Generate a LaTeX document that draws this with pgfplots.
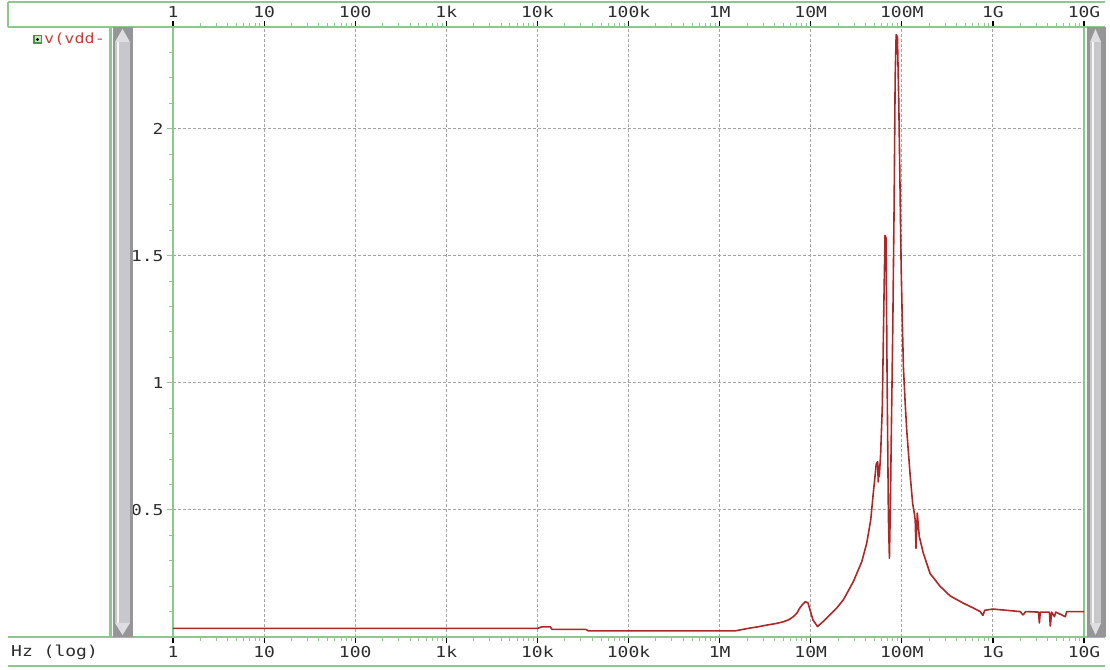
\documentclass[border=0pt]{standalone}
\usepackage{pgfplots}
\pgfplotsset{compat=1.18}
\usepackage{fontspec}
\newfontfamily\ltmono[FakeStretch=1.2]{DejaVu Sans Mono}
\newcommand{\tickfont}{\ltmono\fontsize{15}{17}\selectfont}
\definecolor{agreen}{RGB}{140,200,140}
\definecolor{gridgray}{RGB}{165,165,165}
\definecolor{labelgray}{RGB}{45,45,45}
\definecolor{curvered}{RGB}{172,40,40}
\definecolor{legred}{RGB}{200,60,60}
\definecolor{sbdark}{RGB}{150,150,152}
\definecolor{sbmid}{RGB}{200,200,204}
\definecolor{sbtri}{RGB}{222,222,226}
\definecolor{icongreen}{RGB}{70,150,70}
\definecolor{iconlight}{RGB}{200,230,200}
\begin{document}
\begin{tikzpicture}
\path[use as bounding box] (0pt,0pt) rectangle (1110pt,669pt);
% frame lines
\draw[agreen, line width=1.3pt] (8pt,667pt) -- (1105pt,667pt);
\draw[agreen, line width=1.3pt] (8pt,667pt) -- (8pt,642pt);
\draw[agreen, line width=1.3pt] (8pt,642pt) -- (1105pt,642pt);
\draw[agreen, line width=1.3pt] (8pt,32pt) -- (1105pt,32pt);
\draw[agreen, line width=1.3pt] (8pt,3pt) -- (1105pt,3pt);
\begin{axis}[
  at={(173pt,32pt)}, anchor=south west,
  scale only axis, width=911pt, height=610pt,
  xmode=log, log basis x=10,
  xmin=1, xmax=1e10, ymin=0, ymax=2.4,
  xtick={1,10,100,1000,1e4,1e5,1e6,1e7,1e8,1e9,1e10},
  xticklabels={1,10,100,1k,10k,100k,1M,10M,100M,1G,10G},
  minor xtick={2,3,4,5,6,7,8,9,
    20,30,40,50,60,70,80,90,
    200,300,400,500,600,700,800,900,
    2e3,3e3,4e3,5e3,6e3,7e3,8e3,9e3,
    2e4,3e4,4e4,5e4,6e4,7e4,8e4,9e4,
    2e5,3e5,4e5,5e5,6e5,7e5,8e5,9e5,
    2e6,3e6,4e6,5e6,6e6,7e6,8e6,9e6,
    2e7,3e7,4e7,5e7,6e7,7e7,8e7,9e7,
    2e8,3e8,4e8,5e8,6e8,7e8,8e8,9e8,
    2e9,3e9,4e9,5e9,6e9,7e9,8e9,9e9},
  ytick={0.5,1,1.5,2}, yticklabels={0.5,1,1.5,2},
  minor ytick={0.1,0.2,0.3,0.4,0.6,0.7,0.8,0.9,1.1,1.2,1.3,1.4,1.6,1.7,1.8,1.9,2.1,2.2,2.3},
  ytick pos=left, xtick pos=both,
  tick align=outside,
  major tick length=6pt, minor tick length=4pt,
  every major x tick/.append style={black, line width=1.2pt},
  every minor x tick/.append style={agreen, line width=1pt},
  every major y tick/.append style={agreen, line width=1pt},
  every minor y tick/.append style={agreen, line width=1pt},
  axis line style={agreen, line width=1.3pt},
  grid=major,
  major grid style={gridgray, dash pattern=on 3pt off 2pt, line width=0.9pt},
  minor grid style={draw=none},
  tick label style={font=\tickfont, text=labelgray},
]
\addplot[curvered, line width=1.6pt, line join=round] coordinates {
(1,0.034) (1e4,0.034) (1.122e4,0.040) (1.38e4,0.040) (1.445e4,0.030)
(3.39e4,0.030) (3.63e4,0.024) (1.479e6,0.024) (2.138e6,0.035)
(2.630e6,0.040) (3.311e6,0.047) (4.169e6,0.053) (5.012e6,0.060)
(5.754e6,0.068) (6.457e6,0.080) (7.079e6,0.095) (7.586e6,0.114)
(8.128e6,0.128) (8.71e6,0.139) (9.33e6,0.134) (1.059e7,0.067)
(1.189e7,0.041) (1.380e7,0.062) (1.622e7,0.087) (1.950e7,0.116)
(2.280e7,0.146) (2.938e7,0.218) (3.631e7,0.296) (4.121e7,0.369)
(4.560e7,0.461) (4.864e7,0.566) (5.164e7,0.657) (5.236e7,0.68)
(5.433e7,0.69) (5.508e7,0.61) (5.623e7,0.67) (5.662e7,0.631)
(5.861e7,0.723) (6.109e7,0.907) (6.383e7,1.35) (6.546e7,1.58)
(6.714e7,1.57) (6.887e7,1.04) (7.129e7,0.47) (7.311e7,0.31)
(7.499e7,0.53) (7.691e7,0.83) (7.962e7,1.22) (8.241e7,1.71)
(8.453e7,2.20) (8.670e7,2.37) (8.954e7,2.36) (9.268e7,2.10)
(9.594e7,1.73) (9.840e7,1.45) (1.016e8,1.22) (1.042e8,1.06)
(1.089e8,0.92) (1.132e8,0.815) (1.230e8,0.644) (1.315e8,0.526)
(1.371e8,0.487) (1.403e8,0.46) (1.432e8,0.349) (1.479e8,0.487)
(1.556e8,0.395) (1.722e8,0.33) (2.042e8,0.25) (2.624e8,0.20)
(3.381e8,0.162) (4.732e8,0.133) (6.026e8,0.115) (7.244e8,0.100)
(7.762e8,0.085) (8.128e8,0.105)
(1e9,0.11) (1.413e9,0.105) (1.995e9,0.100) (2.138e9,0.087)
(2.291e9,0.100) (3.162e9,0.098) (3.236e9,0.055) (3.311e9,0.098)
(4.169e9,0.098) (4.266e9,0.043) (4.416e9,0.098) (4.732e9,0.080)
(4.898e9,0.098) (6.237e9,0.080) (6.457e9,0.100) (1e10,0.100)
};
\end{axis}
\begin{axis}[
  at={(173pt,32pt)}, anchor=south west,
  scale only axis, width=911pt, height=610pt,
  xmode=log, log basis x=10,
  xmin=1, xmax=1e10, ymin=0, ymax=2.4,
  axis x line*=top, hide y axis,
  axis line style={draw=none},
  xtick={1,10,100,1000,1e4,1e5,1e6,1e7,1e8,1e9,1e10},
  xticklabels={1,10,100,1k,10k,100k,1M,10M,100M,1G,10G},
  minor xtick={},
  tick align=outside, major tick length=6pt,
  xtick style={draw=none},
  tick label style={font=\tickfont, text=labelgray},
]
\end{axis}
% left scrollbar
\fill[agreen] (109pt,32pt) rectangle (112pt,642pt);
\fill[sbdark] (113pt,32pt) rectangle (133pt,642pt);
\fill[sbmid] (115pt,46pt) rectangle (130pt,627pt);
\fill[white!85!sbmid] (117pt,46pt) rectangle (118.5pt,627pt);
\fill[sbtri] (115pt,627pt) -- (130pt,627pt) -- (122.5pt,640pt) -- cycle;
\fill[sbtri] (115pt,46pt) -- (130pt,46pt) -- (122.5pt,34pt) -- cycle;
% right scrollbar
\fill[sbdark] (1087pt,32pt) rectangle (1106pt,642pt);
\fill[sbmid] (1090pt,46pt) rectangle (1101pt,627pt);
\fill[white!85!sbmid] (1092pt,46pt) rectangle (1093.5pt,627pt);
\fill[sbtri] (1090pt,627pt) -- (1101pt,627pt) -- (1095.5pt,640pt) -- cycle;
\fill[sbtri] (1090pt,46pt) -- (1101pt,46pt) -- (1095.5pt,34pt) -- cycle;
% legend entry
\fill[icongreen] (33pt,625pt) rectangle (42pt,634pt);
\fill[iconlight] (34.5pt,626.5pt) rectangle (40.5pt,632.5pt);
\fill[black] (37.5pt,629.5pt) circle (1.6pt);
\node[anchor=west, inner sep=0pt, text=legred, font=\ltmono\fontsize{14}{16}\selectfont] at (44pt,629.5pt) {v(vdd-};
% x axis name
\node[anchor=west, inner sep=0pt, text=labelgray, font=\tickfont] at (11pt,17pt) {Hz (log)};
\end{tikzpicture}
\end{document}
